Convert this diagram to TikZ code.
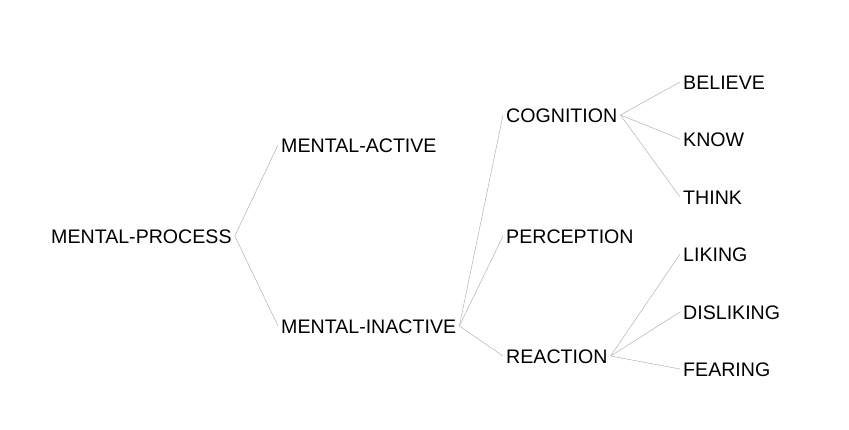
\documentclass[tikz,border=0pt]{standalone}
\usepackage{fontspec}
\setmainfont{Liberation Sans}

\begin{document}
\begin{tikzpicture}[
  x=1pt, y=-1pt, % Pixelraster des Bildes
  begriff/.style={anchor=west, inner sep=3pt, text height=14pt, text depth=0pt,
    font=\fontsize{19.6}{23}\selectfont},
  ast/.style={draw=gray!60, line width=0.5pt}
  ]
\useasboundingbox (0,0) rectangle (849,429);
% Wurzel
  \node[begriff] (process) at (48,236) {MENTAL-PROCESS};
% erste Ebene
  \node[begriff] (active) at (278,145) {MENTAL-ACTIVE};
  \node[begriff] (inactive) at (278,326) {MENTAL-INACTIVE};
% zweite Ebene
  \node[begriff] (cognition) at (503,115) {COGNITION};
  \node[begriff] (perception) at (503,236) {PERCEPTION};
  \node[begriff] (reaction) at (503,356) {REACTION};
% Blaetter
  \node[begriff] (believe) at (680,82) {BELIEVE};
  \node[begriff] (know) at (680,139) {KNOW};
  \node[begriff] (think) at (680,197) {THINK};
  \node[begriff] (liking) at (680,254) {LIKING};
  \node[begriff] (disliking) at (680,312) {DISLIKING};
  \node[begriff] (fearing) at (680,369) {FEARING};
% Verbindungen
  \foreach \a/\b in {process/active, process/inactive,
    inactive/cognition, inactive/perception, inactive/reaction,
    cognition/believe, cognition/know, cognition/think,
    reaction/liking, reaction/disliking, reaction/fearing}
    \draw[ast] (\a.east)--(\b.west);
\end{tikzpicture}
\end{document}
